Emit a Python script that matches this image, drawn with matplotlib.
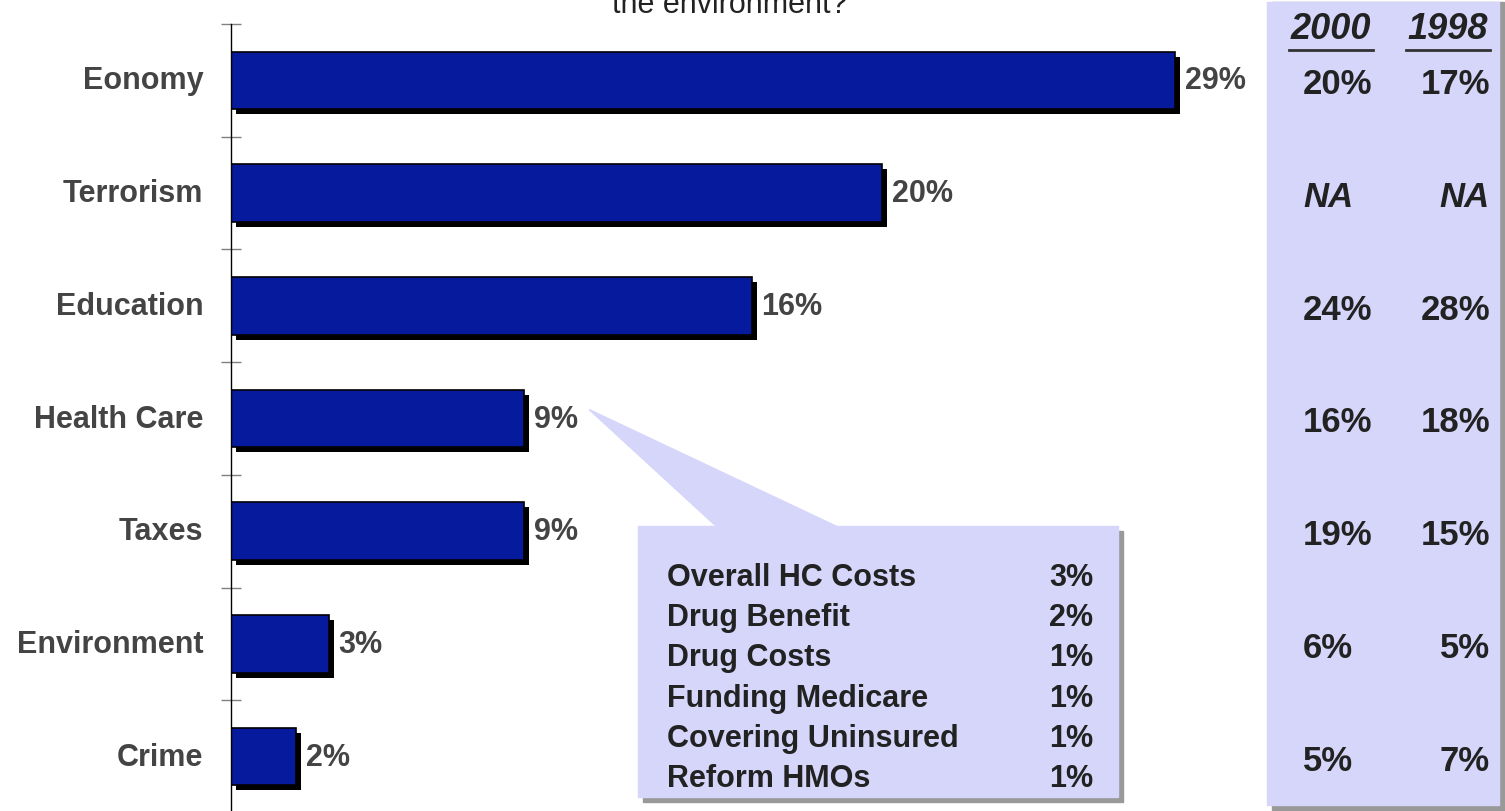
import matplotlib.pyplot as plt
import matplotlib.patches as mpatches
import matplotlib.patheffects as pe
import matplotlib.transforms as mtransforms

plt.rcParams['font.family'] = ['Liberation Sans', 'DejaVu Sans']

# Most important issue, current year
categories = ['Eonomy', 'Terrorism', 'Education', 'Health Care', 'Taxes', 'Environment', 'Crime']
values = [29, 20, 16, 9, 9, 3, 2]

# Earlier waves (None = not asked)
years = ['2000', '1998']
prior_2000 = [20, None, 24, 16, 19, 6, 5]
prior_1998 = [17, None, 28, 18, 15, 5, 7]

# Health care breakdown
hc_items = ['Overall HC Costs', 'Drug Benefit', 'Drug Costs', 'Funding Medicare',
            'Covering Uninsured', 'Reform HMOs']
hc_values = [3, 2, 1, 1, 1, 1]

W, H = 1505, 812
BAR = '#061A9E'
LAV = '#D6D6FB'
LABEL = '#444444'
DARK = '#222222'


def fx(x):
    return x / W


def fy(y):
    return 1 - y / H


fig = plt.figure(figsize=(W / 100, H / 100), dpi=100)

# side panel with earlier results
fig.patches.append(mpatches.Rectangle((fx(1272), fy(811)), fx(232), 808 / H,
                                      transform=fig.transFigure, color='#999999', zorder=0))
fig.patches.append(mpatches.Rectangle((fx(1267), fy(806)), fx(232), 803 / H,
                                      transform=fig.transFigure, color=LAV, zorder=0))

ax = fig.add_axes([fx(231), fy(814), fx(976.5), 789 / H])
ax.set_facecolor('none')
n = len(categories)
ax.set_xlim(0, 30)
ax.set_ylim(n - 0.5, -0.5)

ax.barh(range(n), values, height=0.51, color=BAR, edgecolor='black', linewidth=1.2,
        path_effects=[pe.SimplePatchShadow(offset=(3.6, -3.6), shadow_rgbFace='black', alpha=1),
                      pe.Normal()])

for i, v in enumerate(values):
    ax.annotate(f'{v}%', (v, i), xytext=(7, 0), textcoords='offset points',
                ha='left', va='center', fontsize=22, fontweight='bold', color=LABEL)

for s in ['top', 'right', 'bottom']:
    ax.spines[s].set_visible(False)
ax.spines['left'].set_linewidth(1)
ax.set_xticks([])
ax.set_yticks(range(n))
ax.set_yticklabels(categories, fontsize=22, fontweight='bold', color=LABEL)
ax.tick_params(axis='y', which='major', length=0, pad=20)
ax.set_yticks([k - 0.5 for k in range(n + 1)], minor=True)
ax.tick_params(axis='y', which='minor', direction='inout', length=13.7, width=1, color='#808080')
lift = mtransforms.ScaledTranslation(0, 2.5 / 72, fig.dpi_scale_trans)
for lbl in ax.get_yticklabels():
    lbl.set_transform(lbl.get_transform() + lift)

fig.text(fx(730), fy(13), 'the environment?', ha='center', va='baseline', fontsize=22, color=DARK)

# earlier-years columns, rows lined up with the bars
drop = mtransforms.ScaledTranslation(0, -2.5 / 72, fig.dpi_scale_trans)
row = mtransforms.blended_transform_factory(fig.transFigure, ax.transData) + drop
for year, xc in zip(years, [1331, 1448]):
    fig.text(fx(xc), fy(39), year, ha='center', va='baseline', fontsize=26,
             fontweight='bold', style='italic', color=DARK)
    fig.add_artist(plt.Line2D([fx(xc - 42), fx(xc + 42)], [fy(51), fy(51)],
                              transform=fig.transFigure, color='#333333', lw=2))
for i, (a, b) in enumerate(zip(prior_2000, prior_1998)):
    for v, x, ha in [(a, 1303, 'left'), (b, 1490, 'right')]:
        txt = 'NA' if v is None else f'{v}%'
        fig.text(fx(x), i, txt, transform=row, ha=ha, va='center', fontsize=25,
                 fontweight='bold', style='italic' if v is None else 'normal', color=DARK)

# callout for the health care breakdown
hc_row = categories.index('Health Care')
tip = ax.transData.transform((values[hc_row] + 2, hc_row - 0.08))
tip = fig.transFigure.inverted().transform(tip)
fig.patches.append(mpatches.Rectangle((fx(643), fy(803)), fx(480), 271 / H,
                                      transform=fig.transFigure, color='#999999', zorder=1))
fig.patches.append(mpatches.Polygon([(fx(717), fy(528)), (fx(838), fy(528)), tuple(tip)],
                                    closed=True, transform=fig.transFigure, color=LAV, zorder=2))
fig.patches.append(mpatches.Rectangle((fx(638), fy(798)), fx(480), 271 / H,
                                      transform=fig.transFigure, color=LAV, zorder=3))
for k, (item, v) in enumerate(zip(hc_items, hc_values)):
    y = fy(578 + 40.2 * k)
    fig.text(fx(667), y, item, ha='left', va='center', fontsize=22, fontweight='bold',
             color=DARK, zorder=4)
    fig.text(fx(1093), y, f'{v}%', ha='right', va='center', fontsize=22, fontweight='bold',
             color=DARK, zorder=4)

fig.savefig('out.png', dpi=100)
